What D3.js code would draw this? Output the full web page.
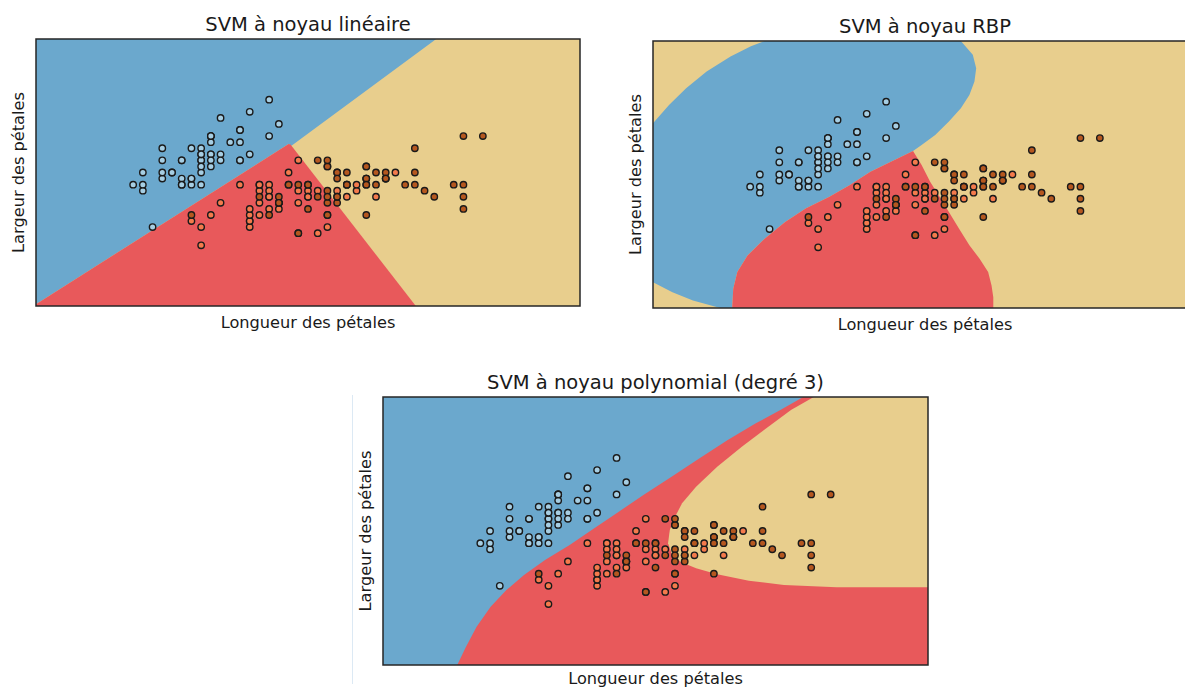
<!DOCTYPE html>
<html>
<head>
<meta charset="utf-8">
<script src="https://cdn.jsdelivr.net/npm/d3@7"></script>
<style>
  body { margin: 0; background: #fff; }
  text { font-family: "DejaVu Sans", sans-serif; fill: #1a1a1a; }
</style>
</head>
<body>
<svg id="chart"></svg>
<script>
// Iris : longueur / largeur des sépales, par espèce
const setosaLength = [5.1,4.9,4.7,4.6,5.0,5.4,4.6,5.0,4.4,4.9,5.4,4.8,4.8,4.3,5.8,5.7,5.4,5.1,5.7,5.1,5.4,5.1,4.6,5.1,4.8,5.0,5.0,5.2,5.2,4.7,4.8,5.4,5.2,5.5,4.9,5.0,5.5,4.9,4.4,5.1,5.0,4.5,4.4,5.0,5.1,4.8,5.1,4.6,5.3,5.0];
const setosaWidth = [3.5,3.0,3.2,3.1,3.6,3.9,3.4,3.4,2.9,3.1,3.7,3.4,3.0,3.0,4.0,4.4,3.9,3.5,3.8,3.8,3.4,3.7,3.6,3.3,3.4,3.0,3.4,3.5,3.4,3.2,3.1,3.4,4.1,4.2,3.1,3.2,3.5,3.6,3.0,3.4,3.5,2.3,3.2,3.5,3.8,3.0,3.8,3.2,3.7,3.3];
const versicolorLength = [7.0,6.4,6.9,5.5,6.5,5.7,6.3,4.9,6.6,5.2,5.0,5.9,6.0,6.1,5.6,6.7,5.6,5.8,6.2,5.6,5.9,6.1,6.3,6.1,6.4,6.6,6.8,6.7,6.0,5.7,5.5,5.5,5.8,6.0,5.4,6.0,6.7,6.3,5.6,5.5,5.5,6.1,5.8,5.0,5.6,5.7,5.7,6.2,5.1,5.7];
const versicolorWidth = [3.2,3.2,3.1,2.3,2.8,2.8,3.3,2.4,2.9,2.7,2.0,3.0,2.2,2.9,2.9,3.1,3.0,2.7,2.2,2.5,3.2,2.8,2.5,2.8,2.9,3.0,2.8,3.0,2.9,2.6,2.4,2.4,2.7,2.7,3.0,3.4,3.1,2.3,3.0,2.5,2.6,3.0,2.6,2.3,2.7,3.0,2.9,2.9,2.5,2.8];
const virginicaLength = [6.3,5.8,7.1,6.3,6.5,7.6,4.9,7.3,6.7,7.2,6.5,6.4,6.8,5.7,5.8,6.4,6.5,7.7,7.7,6.0,6.9,5.6,7.7,6.3,6.7,7.2,6.2,6.1,6.4,7.2,7.4,7.9,6.4,6.3,6.1,7.7,6.3,6.4,6.0,6.9,6.7,6.9,5.8,6.8,6.7,6.7,6.3,6.5,6.2,5.9];
const virginicaWidth = [3.3,2.7,3.0,2.9,3.0,3.0,2.5,2.9,2.5,3.6,3.2,2.7,3.0,2.5,2.8,3.2,3.0,3.8,2.6,2.2,3.2,2.8,2.8,2.7,3.3,3.2,2.8,3.0,2.8,3.0,2.8,3.8,2.8,2.8,2.6,3.0,3.4,3.1,3.0,3.1,3.1,3.1,2.7,3.2,3.3,3.0,2.5,3.0,3.4,3.0];

// limites de la grille (min - 1, max + 1)
const xDomain = [3.3, 8.9];
const yDomain = [1.0, 5.4];

// zones de décision (coordonnées données)
const linearBlue = [[3.3,5.4],[7.42,5.4],[5.93,3.64],[5.9,3.67],[3.3,1.03]];
const linearRed = [[3.3,1.0],[3.3,1.03],[5.9,3.67],[5.92,3.66],[7.21,1.0]];

const rbfBlue = [[4.449,5.4],[6.469,5.4],[6.592,5.174],[6.627,4.953],[6.609,4.733],[6.557,4.512],[6.469,4.292],[6.346,4.072],[6.205,3.851],[6.065,3.686],[5.977,3.587],
  [5.749,3.41],[5.538,3.245],[5.327,3.025],[5.116,2.832],[4.871,2.639],[4.66,2.418],[4.449,2.143],[4.273,1.867],[4.168,1.592],[4.126,1.316],[4.115,1.0],
  [3.992,1.0],[3.711,1.123],[3.5,1.261],[3.3,1.426],[3.3,4.044],[3.465,4.347],[3.641,4.623],[3.852,4.898],[4.098,5.146],[4.308,5.312]];
const rbfRed = [[5.977,3.587],[6.065,3.355],[6.153,3.08],[6.24,2.859],[6.346,2.584],[6.451,2.308],[6.557,2.033],[6.662,1.812],[6.75,1.592],[6.785,1.371],[6.803,1.178],[6.803,1.0],
  [4.115,1.0],[4.126,1.316],[4.168,1.592],[4.273,1.867],[4.449,2.143],[4.66,2.418],[4.871,2.639],[5.116,2.832],[5.327,3.025],[5.538,3.245],[5.749,3.41]];

const polyBlue = [[3.3,5.4],[7.618,5.4],[7.383,5.186],[7.131,4.968],[6.842,4.694],[6.553,4.393],[6.265,4.092],[5.976,3.791],[5.723,3.517],[5.471,3.244],[5.218,2.97],
  [4.965,2.724],[4.749,2.477],[4.568,2.231],[4.406,1.957],[4.262,1.629],[4.153,1.301],[4.063,1.0],[3.3,1.0]];
const polyYellow = [[7.726,5.4],[7.492,5.186],[7.239,4.886],[6.987,4.584],[6.734,4.256],[6.517,3.928],[6.373,3.654],[6.301,3.435],[6.247,3.216],[6.229,2.997],[6.265,2.833],
  [6.355,2.696],[6.517,2.587],[6.734,2.488],[7.059,2.384],[7.42,2.313],[7.961,2.275],[8.9,2.275],[8.9,5.4]];

const classColors = ['#a6cee3', '#f47a4c', '#b5571f'];
const zoneColors = { blue: '#6ba8cd', red: '#e8595b', yellow: '#e8ce8d' };

const panels = [
    { title: 'SVM à noyau linéaire', left: 36, top: 39, width: 544, height: 267, labelGap: 22,
      base: 'yellow', zones: [['blue', linearBlue], ['red', linearRed]] },
    { title: 'SVM à noyau RBP', left: 653, top: 41, width: 544, height: 267, labelGap: 22,
      base: 'yellow', zones: [['blue', rbfBlue], ['red', rbfRed]] },
    { title: 'SVM à noyau polynomial (degré 3)', left: 383, top: 397, width: 545, height: 268, labelGap: 19,
      base: 'red', zones: [['blue', polyBlue], ['yellow', polyYellow]] }
];

function getPoints() {
    let pts = [];
    [[setosaLength, setosaWidth], [versicolorLength, versicolorWidth], [virginicaLength, virginicaWidth]]
        .forEach((pair, cls) => {
            pair[0].forEach((x, i) => pts.push({ x: x, y: pair[1][i], cls: cls }));
        });
    return pts;
}

function drawPanel(svg, p, points) {
    let xScale = d3.scaleLinear().domain(xDomain).range([0, p.width]);
    let yScale = d3.scaleLinear().domain(yDomain).range([p.height, 0]);
    let g = svg.append('g').attr('transform', `translate(${p.left},${p.top})`);

    g.append('rect')
        .attr('width', p.width).attr('height', p.height)
        .attr('fill', zoneColors[p.base]);

    let line = d3.line()
        .x(d => xScale(d[0]))
        .y(d => yScale(d[1]))
        .curve(d3.curveLinearClosed);

    g.selectAll('path.zone').data(p.zones)
        .enter().append('path')
        .attr('class', 'zone')
        .attr('d', d => line(d[1]))
        .attr('fill', d => zoneColors[d[0]]);

    g.selectAll('circle').data(points)
        .enter().append('circle')
        .attr('cx', d => xScale(d.x))
        .attr('cy', d => yScale(d.y))
        .attr('r', 3.2)
        .attr('fill', d => classColors[d.cls])
        .attr('stroke', '#1a1a1a')
        .attr('stroke-width', 1.4);

    g.append('rect')
        .attr('width', p.width).attr('height', p.height)
        .attr('fill', 'none')
        .attr('stroke', '#262626')
        .attr('stroke-width', 1.5);

    g.append('text')
        .attr('x', p.width / 2).attr('y', -8)
        .attr('text-anchor', 'middle')
        .style('font-size', '19.5px')
        .text(p.title);

    g.append('text')
        .attr('x', p.width / 2).attr('y', p.height + p.labelGap)
        .attr('text-anchor', 'middle')
        .style('font-size', '16.2px')
        .text('Longueur des pétales');

    g.append('text')
        .attr('transform', `translate(-12,${p.height / 2}) rotate(-90)`)
        .attr('text-anchor', 'middle')
        .style('font-size', '16.2px')
        .text('Largeur des pétales');
}

let svg = d3.select('#chart').attr('width', 1185).attr('height', 689);
svg.append('rect').attr('width', 1185).attr('height', 689).attr('fill', '#fff');

// fine ligne parasite à gauche du troisième graphique
svg.append('line')
    .attr('x1', 352.5).attr('x2', 352.5).attr('y1', 395).attr('y2', 684)
    .attr('stroke', '#dce9f4').attr('stroke-width', 1);

let points = getPoints();
panels.forEach(p => drawPanel(svg, p, points));
</script>
</body>
</html>
